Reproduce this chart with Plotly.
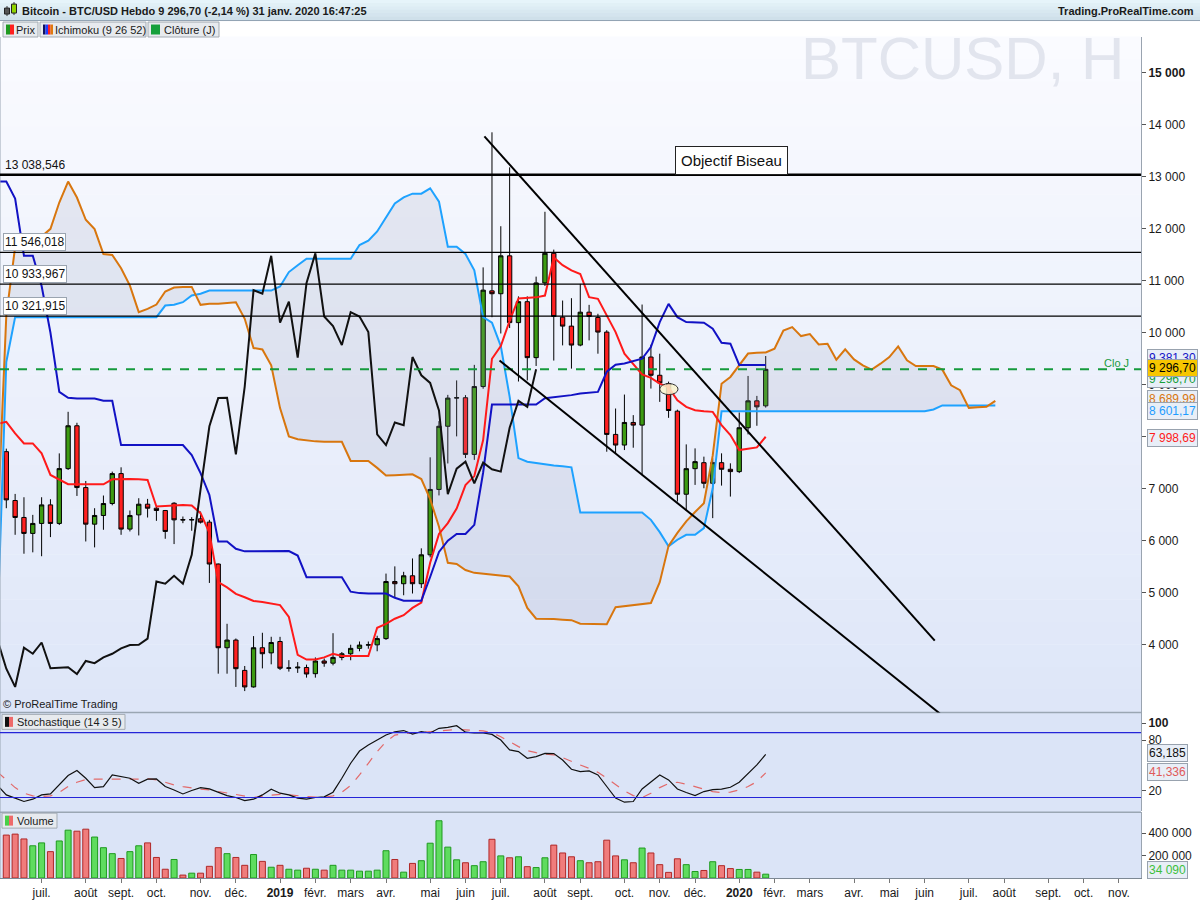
import pandas as pd
import plotly.graph_objects as go
from plotly.subplots import make_subplots

# --- weekly BTC/USD candles (Monday of each week) ---
FIRST_WEEK = "2018-06-04"

OPEN = [7712, 6772, 6446, 6139, 6331, 6688, 6331, 7386, 8210, 7021,
        6317, 6484, 6714, 7290, 6222, 6496, 6701, 6624, 6580, 6720,
        6405, 6398, 6420, 6356, 5550, 3939, 4087, 3503, 3185, 3939,
        3840, 4059, 3545, 3550, 3559, 3440, 3684, 3642, 3753, 3823,
        3927, 3990, 3995, 4115, 5213, 5171, 5324, 5171, 5727, 6985,
        8201, 8743, 8750, 7659, 8965, 10806, 10751, 11480, 10195, 10598,
        9521, 10959, 11529, 10300, 10128, 9763, 10396, 10294, 10013, 8044,
        7839, 8274, 8223, 9533, 9182, 9022, 8491, 6893, 7385, 7500,
        7104, 7500, 7373, 7328, 8172, 8690, 8594]
HIGH = [7770, 6899, 6835, 6496, 6835, 6797, 7679, 8479, 8268, 7148,
        6624, 6868, 7328, 7411, 6580, 6816, 6803, 6656, 6590, 6740,
        6464, 6452, 6560, 6400, 5560, 4400, 4117, 3588, 4163, 4227,
        4150, 4149, 3700, 3663, 3614, 3753, 3732, 4219, 3857, 3997,
        4059, 4059, 4170, 5366, 5505, 5400, 5657, 5852, 7603, 8300,
        8805, 9083, 8800, 9382, 11258, 13857, 12050, 13183, 10700, 10700,
        11080, 12328, 11600, 10620, 10665, 10940, 10537, 10365, 10050, 8542,
        8811, 8415, 10543, 9770, 9597, 9060, 8520, 7852, 7775, 7616,
        7584, 7680, 7488, 8466, 9169, 8785, 9553]
LOW = [6624, 6112, 5748, 5775, 5700, 6068, 6300, 7360, 6860, 5984,
       5870, 6209, 6680, 6112, 6177, 6100, 6445, 6381, 6036, 5934,
       6336, 6190, 6330, 5186, 3440, 3440, 3185, 3105, 3172, 3542,
       3620, 3510, 3480, 3455, 3364, 3364, 3573, 3600, 3698, 3698,
       3871, 3920, 3871, 4090, 4914, 4949, 4983, 5088, 5678, 6870,
       7485, 8006, 7589, 7554, 8923, 10299, 9986, 10091, 9062, 9083,
       9361, 10900, 9465, 9757, 9310, 9740, 9853, 9597, 7711, 7679,
       7743, 7788, 7277, 8926, 8670, 8363, 6752, 6573, 7072, 7008,
       6433, 7059, 6848, 7300, 8044, 8210, 8560]
CLOSE = [6784, 6446, 6139, 6331, 6688, 6331, 7386, 8210, 7021, 6317,
         6484, 6714, 7290, 6222, 6484, 6701, 6624, 6580, 6177, 6400,
         6398, 6404, 6356, 5550, 3939, 4087, 3536, 3185, 3939, 3824,
         4040, 3545, 3550, 3565, 3434, 3684, 3642, 3753, 3823, 3927,
         3990, 3995, 4115, 5213, 5171, 5324, 5171, 5727, 6985, 8201,
         8743, 8750, 7659, 8965, 10820, 10751, 11480, 10195, 10598, 9521,
         10959, 11529, 10313, 10128, 9763, 10396, 10313, 10013, 8044, 7839,
         8274, 8223, 9533, 9182, 9035, 8504, 6893, 7385, 7520, 7104,
         7500, 7373, 7328, 8172, 8690, 8574, 9296.70]
VOLUME = [382600, 391000, 348000, 287000, 313000, 235000, 330000, 426000, 417000, 435000,
          365000, 270000, 217000, 174000, 235000, 287000, 313000, 183000, 78000, 165000,
          26000, 43000, 43000, 104000, 270000, 217000, 183000, 113000, 209000, 148000,
          96000, 113000, 78000, 70000, 87000, 78000, 70000, 113000, 70000, 70000,
          61000, 61000, 70000, 243000, 165000, 52000, 130000, 154000, 310000, 510000,
          275000, 162000, 136000, 110000, 145000, 345000, 197000, 180000, 189000, 101000,
          93000, 180000, 293000, 223000, 189000, 154000, 136000, 145000, 337000, 197000,
          162000, 136000, 267000, 223000, 119000, 50000, 171000, 119000, 58000, 67000,
          145000, 110000, 84000, 76000, 76000, 52000, 34090]

# --- Ichimoku (9 26 52); first value is the week before FIRST_WEEK ---
TENKAN = [8250, 8287, 8063, 7871, 7871, 7679, 7264, 7168, 7085, 7085,
          7085, 7085, 7085, 7180, 7187, 7187, 7180, 7168, 6656, 6670,
          6688, 6688, 6675, 6528, 6150, 5200, 5100, 4975, 4911, 4840,
          4821, 4790, 4760, 4531, 3802, 3712, 3712, 3753, 3823, 3781,
          3781, 3781, 3781, 4323, 4400, 4497, 4566, 4705, 4809, 5574,
          6130, 6338, 6616, 7068, 7242, 7936, 9500, 9743, 10230, 10660,
          10670, 10681, 10716, 11450, 11300, 11200, 11131, 10684, 10652, 10332,
          10013, 9597, 9400, 9200, 9131, 9022, 8950, 8700, 8574, 8510,
          8490, 8478, 8223, 8031, 7743, 7775, 7794, 7998.69]
KIJUN = [12909, 12909, 12583, 11483, 11483, 10900, 10000, 8862, 8750, 8734,
         8734, 8734, 8690, 8690, 7838, 7838, 7838, 7838, 7838, 7838,
         7838, 7838, 7647, 7300, 6879, 5985, 5985, 5844, 5794, 5794,
         5794, 5794, 5800, 5800, 5713, 5296, 5296, 5296, 5296, 5296,
         5018, 4990, 4983, 4983, 4983, 4900, 4844, 4844, 4844, 5300,
         5782, 6000, 6130, 6130, 6304, 7311, 8618, 8618, 8618, 8618,
         8618, 8618, 8740, 8760, 8770, 8800, 8830, 8849, 8862, 9250,
         9386, 9410, 9450, 9500, 9725, 10205, 10556, 10300, 10205, 10200,
         10192, 10077, 9808, 9789, 9381.30, 9381.30, 9381.30, 9381.30]
# leading spans run 26 weeks past the last candle
SENKOU_A = [6300, 10332, 11650, 11700, 11750, 11850, 12000, 12506, 12909, 12602,
            12174, 11995, 11515, 11496, 11240, 10908, 10397, 10460, 10543, 10793,
            10869, 10882, 10882, 10537, 10556, 10556, 10575, 10588, 10268, 9706,
            9680, 9374, 8550, 8006, 7950, 7923, 7910, 7905, 7902, 7902,
            7534, 7534, 7534, 7400, 7255, 7260, 7270, 7276, 7186, 6800,
            6268, 5574, 5550, 5435, 5380, 5360, 5340, 5320, 5310, 5122,
            4705, 4497, 4497, 4490, 4480, 4470, 4400, 4400, 4390, 4390,
            4720, 4740, 4760, 4780, 4800, 5200, 5900, 6150, 6370, 6550,
            6720, 7640, 9020, 9150, 9370, 9600, 9616, 9620, 9693, 10044,
            10108, 9936, 9974, 9776, 9789, 9482, 9680, 9488, 9373, 9290,
            9405, 9533, 9738, 9469, 9360, 9360, 9360, 9290, 8990, 8894,
            8555, 8568, 8574, 8689.99]
SENKOU_B = [4400, 9438, 10300, 10300, 10300, 10300, 10300, 10300, 10300, 10300,
            10300, 10300, 10300, 10300, 10300, 10300, 10300, 10300, 10300, 10524,
            10540, 10588, 10716, 10750, 10812, 10812, 10812, 10812, 10812, 10812,
            10812, 10812, 10890, 11168, 11300, 11425, 11425, 11425, 11425, 11425,
            11425, 11689, 11772, 11950, 12210, 12488, 12606, 12676, 12676, 12780,
            12523, 11654, 11654, 11515, 11203, 10300, 10195, 9743, 8770, 7589,
            7519, 7490, 7464, 7445, 7429, 7411, 6541, 6541, 6541, 6541,
            6541, 6541, 6541, 6541, 6400, 6164, 5889, 6017, 6113, 6113,
            6241, 7008, 8490, 8490, 8490, 8490, 8490, 8490, 8490, 8490,
            8490, 8490, 8490, 8490, 8490, 8490, 8490, 8490, 8490, 8490,
            8490, 8490, 8490, 8490, 8490, 8490, 8523, 8601.17, 8601.17, 8601.17,
            8601.17, 8601.17, 8601.17, 8601.17]
CHIKOU_SHIFT = 26

# --- Stochastique (14 3 5), first value is the week before FIRST_WEEK ---
STOCH_K = [26.4, 15.3, 11.5, 7.5, 10.2, 15.3, 16.4, 27.0, 38.1, 44.0,
           34.9, 23.9, 25.1, 38.8, 36.4, 34.9, 29.0, 33.8, 34.1, 25.1,
           21.1, 16.4, 20.5, 23.9, 22.3, 18.5, 14.5, 12.2, 8.6, 10.2,
           15.3, 22.0, 17.3, 15.3, 11.5, 10.2, 12.2, 13.0, 18.5, 34.9,
           52.6, 67.0, 74.1, 80.0, 85.9, 89.8, 91.2, 87.0, 89.8, 88.3,
           93.8, 95.0, 96.9, 89.3, 88.3, 88.3, 86.6, 80.0, 68.3, 66.4,
           58.5, 60.4, 64.3, 64.0, 56.4, 45.5, 42.8, 43.6, 38.8, 25.2,
           11.5, 6.7, 7.5, 22.3, 31.1, 38.8, 33.0, 22.3, 18.1, 14.5,
           19.2, 21.6, 22.0, 24.3, 30.2, 40.8, 50.6, 63.185]
STOCH_D = [42.3, 33.0, 23.9, 17.3, 14.1, 13.4, 14.1, 18.1, 25.1, 30.2,
           33.4, 33.8, 33.8, 33.8, 33.4, 33.0, 33.8, 34.5, 33.0, 30.2,
           27.0, 25.1, 23.2, 22.0, 21.1, 19.2, 17.3, 15.3, 13.4, 12.2,
           13.7, 15.3, 16.0, 15.3, 14.1, 13.4, 12.6, 12.6, 14.1, 18.5,
           26.4, 38.8, 52.6, 66.4, 78.1, 85.9, 87.4, 88.4, 89.3, 89.9,
           91.2, 92.0, 92.5, 92.0, 91.6, 90.8, 88.7, 83.9, 78.1, 72.2,
           67.5, 65.1, 63.6, 62.4, 59.2, 54.5, 50.6, 46.6, 41.9, 34.9,
           27.0, 20.0, 14.5, 12.2, 17.3, 23.9, 28.7, 30.2, 27.9, 25.1,
           22.3, 19.2, 18.1, 18.5, 21.1, 25.1, 30.9, 41.336]
STOCH_LEVELS = [88.7, 12.2]

# --- drawings on the price chart ---
LEVELS = [13038.546, 11546.018, 10933.967, 10321.915]
TREND_UPPER = [("2019-06-18", 13780), ("2020-06-09", 4077)]
TREND_LOWER = [("2019-06-30", 9467), ("2020-06-13", 2674)]
ELLIPSE = [("2019-11-04", 8810), ("2019-11-18 12:00", 9021)]

PRICE_TICKS = [4000, 5000, 6000, 7000, 8000, 9000, 10000, 11000, 12000, 13000, 14000, 15000]
TICK_FIRST_MONTH = "2018-07-01"
TICK_LABELS = ["juil.", "août", "sept.", "oct.", "nov.", "déc.", "2019", "févr.", "mars", "avr.",
               "mai", "juin", "juil.", "août", "sept.", "oct.", "nov.", "déc.", "2020", "févr.",
               "mars", "avr.", "mai", "juin", "juil.", "août", "sept.", "oct.", "nov."]

GREEN = "#3d9b12"
RED = "#ff2020"
FONT = "Liberation Sans, Arial, sans-serif"


def fr(v, d):
    return f"{v:,.{d}f}".replace(",", " ").replace(".", ",")


# pixel helpers (plot area is 1141 x 843 px, top at 37 px)
def px(x):
    return x / 1141.0


def py(y):
    return (880.0 - y) / 843.0


first = pd.Timestamp(FIRST_WEEK)
weeks = pd.date_range(first, periods=len(CLOSE), freq="7D")
ext = pd.date_range(first - pd.Timedelta(days=7), periods=len(SENKOU_A), freq="7D")
wk = pd.Timedelta(days=7)
x_start = first - 0.713 * wk
x_end = first + 128.5 * wk

fig = make_subplots(rows=3, cols=1, shared_xaxes=True, vertical_spacing=0)

# cloud
fig.add_trace(go.Scatter(x=ext, y=SENKOU_B, mode="lines",
                         line=dict(color="#1ea2ff", width=2), hoverinfo="skip"), row=1, col=1)
fig.add_trace(go.Scatter(x=ext, y=SENKOU_A, mode="lines", fill="tonexty",
                         fillcolor="rgba(150,156,182,0.17)",
                         line=dict(color="#d8760e", width=2), hoverinfo="skip"), row=1, col=1)

fig.add_trace(go.Candlestick(
    x=weeks, open=OPEN, high=HIGH, low=LOW, close=CLOSE, whiskerwidth=0,
    increasing=dict(fillcolor=GREEN, line=dict(color="black", width=1)),
    decreasing=dict(fillcolor=RED, line=dict(color="black", width=1)),
    hoverinfo="skip"), row=1, col=1)

n_line = len(TENKAN)
fig.add_trace(go.Scatter(x=ext[:n_line], y=TENKAN, mode="lines",
                         line=dict(color="#ff1a1a", width=2), hoverinfo="skip"), row=1, col=1)
fig.add_trace(go.Scatter(x=ext[:n_line], y=KIJUN, mode="lines",
                         line=dict(color="#1212c4", width=2), hoverinfo="skip"), row=1, col=1)
chikou_x = [w - CHIKOU_SHIFT * wk for w in weeks[CHIKOU_SHIFT - 1:]]
fig.add_trace(go.Scatter(x=chikou_x, y=CLOSE[CHIKOU_SHIFT - 1:], mode="lines",
                         line=dict(color="#111111", width=2), hoverinfo="skip"), row=1, col=1)

# stochastic
fig.add_trace(go.Scatter(x=ext[:len(STOCH_D)], y=STOCH_D, mode="lines",
                         line=dict(color="#e26a6a", width=1.2, dash="dash"), hoverinfo="skip"), row=2, col=1)
fig.add_trace(go.Scatter(x=ext[:len(STOCH_K)], y=STOCH_K, mode="lines",
                         line=dict(color="#111111", width=1.2), hoverinfo="skip"), row=2, col=1)

# volume, coloured against the previous close
vol_up = [CLOSE[i] >= (CLOSE[i - 1] if i else OPEN[0]) for i in range(len(CLOSE))]
fig.add_trace(go.Bar(
    x=weeks, y=VOLUME, width=0.68 * 7 * 86400000,
    marker=dict(color=["#5fdc5f" if u else "#f07c7c" for u in vol_up],
                line=dict(color=["#1e9a1e" if u else "#b02828" for u in vol_up], width=1)),
    hoverinfo="skip"), row=3, col=1)

shapes = []
# backgrounds
top_c, bot_c = (250, 251, 255), (222, 230, 248)
nb = 30
for k in range(nb):
    t = (k + 0.5) / nb
    c = tuple(round(top_c[j] + (bot_c[j] - top_c[j]) * t) for j in range(3))
    shapes.append(dict(type="rect", xref="paper", yref="paper", x0=0, x1=1,
                       y0=py(37 + 677 * (k + 1) / nb), y1=py(37 + 677 * k / nb) + 0.0005,
                       fillcolor="rgb(%d,%d,%d)" % c, line=dict(width=0), layer="below"))
shapes.append(dict(type="rect", xref="paper", yref="paper", x0=0, x1=1, y0=0, y1=py(714),
                   fillcolor="#dbe4f7", line=dict(width=0), layer="below"))
for yy in (714, 814):
    shapes.append(dict(type="line", xref="paper", yref="paper", x0=0, x1=1, y0=py(yy), y1=py(yy),
                       line=dict(color="#9aa6b3", width=1.5)))
shapes.append(dict(type="line", xref="paper", yref="paper", x0=0, x1=0, y0=0, y1=1,
                   line=dict(color="#9aa6b3", width=1)))

# horizontal levels
for k, lv in enumerate(LEVELS):
    shapes.append(dict(type="line", xref="paper", yref="y", x0=0, x1=1, y0=lv, y1=lv,
                       line=dict(color="black", width=2.5 if k == 0 else 1.2)))
shapes.append(dict(type="line", xref="paper", yref="y", x0=0, x1=1, y0=CLOSE[-1], y1=CLOSE[-1],
                   line=dict(color="#159a3c", width=2, dash="dash")))
for tl in (TREND_UPPER, TREND_LOWER):
    shapes.append(dict(type="line", xref="x", yref="y", x0=tl[0][0], y0=tl[0][1],
                       x1=tl[1][0], y1=tl[1][1], line=dict(color="black", width=2)))
shapes.append(dict(type="circle", xref="x", yref="y", x0=ELLIPSE[0][0], y0=ELLIPSE[0][1],
                   x1=ELLIPSE[1][0], y1=ELLIPSE[1][1], fillcolor="rgba(250,245,205,0.85)",
                   line=dict(color="#333333", width=1)))
for lv in STOCH_LEVELS:
    shapes.append(dict(type="line", xref="paper", yref="y2", x0=0, x1=1, y0=lv, y1=lv,
                       line=dict(color="#2424d8", width=1.2)))

# header bar
hb = [(232, 246, 251), (205, 222, 233)]
for k in range(6):
    t = (k + 0.5) / 6
    c = tuple(round(hb[0][j] + (hb[1][j] - hb[0][j]) * t) for j in range(3))
    shapes.append(dict(type="rect", xref="paper", yref="paper", x0=0, x1=px(1200),
                       y0=py(20 * (k + 1) / 6), y1=py(20 * k / 6) + 0.0005,
                       fillcolor="rgb(%d,%d,%d)" % c, line=dict(width=0)))
shapes.append(dict(type="line", xref="paper", yref="paper", x0=0, x1=px(1200), y0=py(20.5), y1=py(20.5),
                   line=dict(color="#90a2b2", width=1)))
# header icon
shapes.append(dict(type="line", xref="paper", yref="paper", x0=px(7), x1=px(7), y0=py(16), y1=py(6),
                   line=dict(color="#333", width=1)))
shapes.append(dict(type="rect", xref="paper", yref="paper", x0=px(4.5), x1=px(9.5), y0=py(14), y1=py(8),
                   fillcolor="#555", line=dict(color="#222", width=1)))
shapes.append(dict(type="line", xref="paper", yref="paper", x0=px(14), x1=px(14), y0=py(15), y1=py(2),
                   line=dict(color="#333", width=1)))
shapes.append(dict(type="rect", xref="paper", yref="paper", x0=px(11.5), x1=px(16.5), y0=py(13), y1=py(4),
                   fillcolor="#8fd400", line=dict(color="#222", width=1)))


def box(x0, x1, y0, y1):
    shapes.append(dict(type="rect", xref="paper", yref="paper", x0=px(x0), x1=px(x1), y0=py(y1), y1=py(y0),
                       fillcolor="#e7eaee", line=dict(color="#a3abb3", width=1)))


def icon(x0, y0, cols, w=4, h=10):
    for k, c in enumerate(cols):
        shapes.append(dict(type="rect", xref="paper", yref="paper", x0=px(x0 + k * w), x1=px(x0 + (k + 1) * w),
                           y0=py(y0 + h), y1=py(y0), fillcolor=c, line=dict(width=0)))


box(3, 38, 22, 37)
icon(6, 24.5, ["#1f9a1f", "#ff2020"])
box(40, 146, 22, 37)
icon(43, 24.5, ["#101060", "#1e3cff", "#ff2020", "#e07a10"], w=2.5)
box(148, 219, 22, 37)
icon(151, 24.5, ["#16a03c"], w=9)
box(2, 125, 716, 731)
icon(5, 718.5, ["#111111", "#ee6a6a"])
box(2, 57, 815, 830)
icon(5, 817.5, ["#48d048", "#ee6a6a"])

ann = []


def text(x, y, s, size=11, color="#1a1a1a", xanchor="left", yanchor="middle", **kw):
    ann.append(dict(xref="paper", yref="paper", x=px(x), y=py(y), text=s, showarrow=False,
                    xanchor=xanchor, yanchor=yanchor, font=dict(size=size, color=color, family=FONT), **kw))


text(20, 10.5, "<b>Bitcoin - BTC/USD Hebdo %s (-2,14 %%) 31 janv. 2020 16:47:25</b>" % fr(CLOSE[-1], 2))
text(1196, 10.5, "<b>Trading.ProRealTime.com</b>", xanchor="right")
text(14, 29.5, "Prix")
text(53, 29.5, "Ichimoku (9 26 52)")
text(162, 29.5, "Clôture (J)")
text(15, 723.5, "Stochastique (14 3 5)")
text(15, 822.5, "Volume")
text(1, 706, "© ProRealTime Trading")
text(962, 59, "BTCUSD, H", size=60, color="#e2e5ee", xanchor="center")
text(1131, 364, "Clo J", color="#1a9a40", xanchor="right")
ann.append(dict(xref="paper", yref="paper", x=px(731), y=py(160.5), text="Objectif Biseau", showarrow=False,
                xanchor="center", yanchor="middle",
                font=dict(size=15, color="#111", family=FONT), bgcolor="white",
                bordercolor="#222", borderwidth=1, borderpad=5))

for k, lv in enumerate(LEVELS):
    d = dict(xref="paper", yref="y", x=px(3), y=lv, text=fr(lv, 3), showarrow=False,
             xanchor="left", yanchor="bottom", yshift=1, font=dict(size=12, color="#111", family=FONT))
    if k:
        d.update(bgcolor="white", bordercolor="#9aa4b0", borderwidth=1, borderpad=1)
    ann.append(d)


def tag(y, s, color, bg="#e8eef7"):
    ann.append(dict(xref="paper", yref="paper", x=px(1147), y=py(y), text=s, showarrow=False,
                    xanchor="left", yanchor="middle", font=dict(size=12, color=color, family=FONT),
                    bgcolor=bg, bordercolor="#98a2ae", borderwidth=1, borderpad=1))


tag(359, fr(KIJUN[-1], 2), "#1414c8")
tag(380, fr(CLOSE[-1], 2), "#16a03c")
tag(369, fr(CLOSE[-1], 2), "#000000", bg="#f7c600")
tag(400, fr(SENKOU_A[-1], 2), "#d8760e")
tag(411.5, fr(SENKOU_B[-1], 2), "#1e9cff")
tag(438.5, fr(TENKAN[-1], 2), "#ff1a1a")
tag(755, fr(STOCH_K[-1], 3), "#111111")
tag(774, fr(STOCH_D[-1], 3), "#e05a5a")
tag(872, fr(VOLUME[-1], 0), "#3cc03c")

tick_dates = []
for m in pd.date_range(TICK_FIRST_MONTH, periods=len(TICK_LABELS), freq="MS"):
    tick_dates.append(m + pd.Timedelta(days=(7 - m.weekday()) % 7))
tick_text = ["<b>%s</b>" % t if t.isdigit() else t for t in TICK_LABELS]

yax = dict(side="right", showgrid=False, zeroline=False, showline=True, linecolor="#9aa4b0",
           ticks="outside", ticklen=4, tickcolor="#555", tickfont=dict(size=12, color="#1a1a1a", family=FONT))
xax = dict(showgrid=False, zeroline=False, range=[x_start, x_end], showticklabels=False, ticks="")

fig.update_layout(
    width=1200, height=900, margin=dict(l=0, r=59, t=37, b=20),
    paper_bgcolor="white", plot_bgcolor="rgba(0,0,0,0)", showlegend=False,
    font=dict(family=FONT, size=12, color="#1a1a1a"),
    shapes=shapes, annotations=ann,
    xaxis=dict(xax, rangeslider=dict(visible=False)),
    xaxis2=dict(xax),
    xaxis3=dict(xax, showticklabels=True, tickvals=tick_dates, ticktext=tick_text, ticks="outside",
                ticklen=4, tickcolor="#777", showline=True, linecolor="#7d8894",
                tickfont=dict(size=12, color="#1a1a1a", family=FONT)),
    yaxis=dict(yax, domain=[py(714), 1], range=[2695, 15691], tickvals=PRICE_TICKS,
               ticktext=["<b>%s</b>" % fr(v, 0) if v == 15000 else fr(v, 0) for v in PRICE_TICKS]),
    yaxis2=dict(yax, domain=[py(813), py(714)], range=[-3.9, 112.6], tickvals=[100, 80, 20],
                ticktext=["<b>100</b>", "80", "20"]),
    yaxis3=dict(yax, domain=[0, py(814)], range=[0, 586700], tickvals=[200000, 400000],
                ticktext=[fr(200000, 0), fr(400000, 0)]),
)

fig.write_html("out.html", config={"displayModeBar": False},
               post_script="document.body.style.margin='0px';")
